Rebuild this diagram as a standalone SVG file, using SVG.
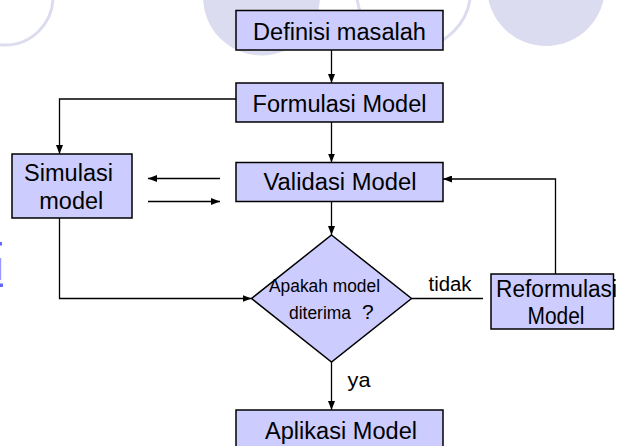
<svg xmlns="http://www.w3.org/2000/svg" width="618" height="446" viewBox="0 0 618 446">
  <style>
    .bg-fill { fill: #dcdcf0; stroke: none; }
    .bg-ring { fill: none; stroke: #dcdcf0; stroke-width: 3; }
    .box { fill: #ccccff; stroke: #000; stroke-width: 1.5; }
    .lbl { font-family: "Liberation Sans", Arial, sans-serif; fill: #000; }
    .big { font-size: 23px; text-anchor: middle; }
    .small { font-size: 17.5px; }
    .edge { fill: none; stroke: #000; stroke-width: 1.3; }
    .link { fill: #6666ff; }
  </style>
  <defs>
    <marker id="arrow" markerUnits="userSpaceOnUse" markerWidth="9" markerHeight="7" refX="9" refY="3.5" orient="auto">
      <path d="M0,0 L9,3.5 L0,7 z" fill="#000"/>
    </marker>
  </defs>

  <!-- decorative backdrop circles -->
  <g id="backdrop">
    <circle class="bg-ring" cx="5" cy="-3" r="48"/>
    <circle class="bg-fill" cx="261.5" cy="-3" r="58.5"/>
    <circle class="bg-ring" cx="413.5" cy="-9" r="57"/>
    <circle class="bg-fill" cx="546" cy="-13" r="59"/>
    <rect class="link" x="0" y="242" width="2" height="3.5"/>
    <rect x="0" y="258" width="1.2" height="22" fill="#9999ff"/>
    <rect class="link" x="0" y="283.5" width="3" height="3.5"/>
  </g>

  <!-- connectors -->
  <g id="connectors">
    <path class="edge" d="M331.5,50 V83" marker-end="url(#arrow)"/>
    <path class="edge" d="M236,99 H59.5 V154" marker-end="url(#arrow)"/>
    <path class="edge" d="M331.5,122 V162.5" marker-end="url(#arrow)"/>
    <path class="edge" d="M331.5,201.5 V235" marker-end="url(#arrow)"/>
    <path class="edge" d="M59.5,218 V298.5 H251.5" marker-end="url(#arrow)"/>
    <path class="edge" d="M220,178.5 H148" marker-end="url(#arrow)"/>
    <path class="edge" d="M148,201.5 H220" marker-end="url(#arrow)"/>
    <path class="edge" d="M411.5,298.5 H483"/>
    <path class="edge" d="M555.5,274 V179 H443" marker-end="url(#arrow)"/>
    <path class="edge" d="M331.5,362 V410" marker-end="url(#arrow)"/>
    <text class="lbl" x="428.5" y="290.5" font-size="20" textLength="43" lengthAdjust="spacingAndGlyphs">tidak</text>
    <text class="lbl" x="347.5" y="386.5" font-size="21" textLength="23" lengthAdjust="spacingAndGlyphs">ya</text>
  </g>

  <g id="definisi">
    <rect class="box" x="236" y="10.5" width="207" height="39.5"/>
    <text class="lbl big" x="339.5" y="40" textLength="173" lengthAdjust="spacingAndGlyphs">Definisi masalah</text>
  </g>

  <g id="formulasi">
    <rect class="box" x="236" y="83" width="207" height="39"/>
    <text class="lbl big" x="339.5" y="112" textLength="174" lengthAdjust="spacingAndGlyphs">Formulasi Model</text>
  </g>

  <g id="validasi">
    <rect class="box" x="236" y="162.5" width="207" height="39"/>
    <text class="lbl big" x="340" y="190" textLength="153" lengthAdjust="spacingAndGlyphs">Validasi Model</text>
  </g>

  <g id="simulasi">
    <rect class="box" x="12" y="154" width="120" height="64"/>
    <text class="lbl big" x="68.5" y="181" textLength="89" lengthAdjust="spacingAndGlyphs">Simulasi</text>
    <text class="lbl big" x="71.3" y="208.5" textLength="64" lengthAdjust="spacingAndGlyphs">model</text>
  </g>

  <g id="keputusan">
    <polygon class="box" points="331.5,235 411.5,298.5 331.5,362 251.5,298.5"/>
    <text class="lbl small" x="324.5" y="291.5" text-anchor="middle" textLength="111" lengthAdjust="spacingAndGlyphs">Apakah model</text>
    <text class="lbl small" x="289" y="319" textLength="62" lengthAdjust="spacingAndGlyphs">diterima</text>
    <text class="lbl" x="362" y="319" font-size="21">?</text>
  </g>

  <g id="reformulasi">
    <rect class="box" x="491" y="274" width="122.5" height="55"/>
    <text class="lbl big" x="556.5" y="296.5" textLength="121" lengthAdjust="spacingAndGlyphs">Reformulasi</text>
    <text class="lbl big" x="556" y="324" textLength="57" lengthAdjust="spacingAndGlyphs">Model</text>
  </g>

  <g id="aplikasi">
    <rect class="box" x="236" y="410" width="207" height="40"/>
    <text class="lbl big" x="341" y="438.5" textLength="152" lengthAdjust="spacingAndGlyphs">Aplikasi Model</text>
  </g>
</svg>
